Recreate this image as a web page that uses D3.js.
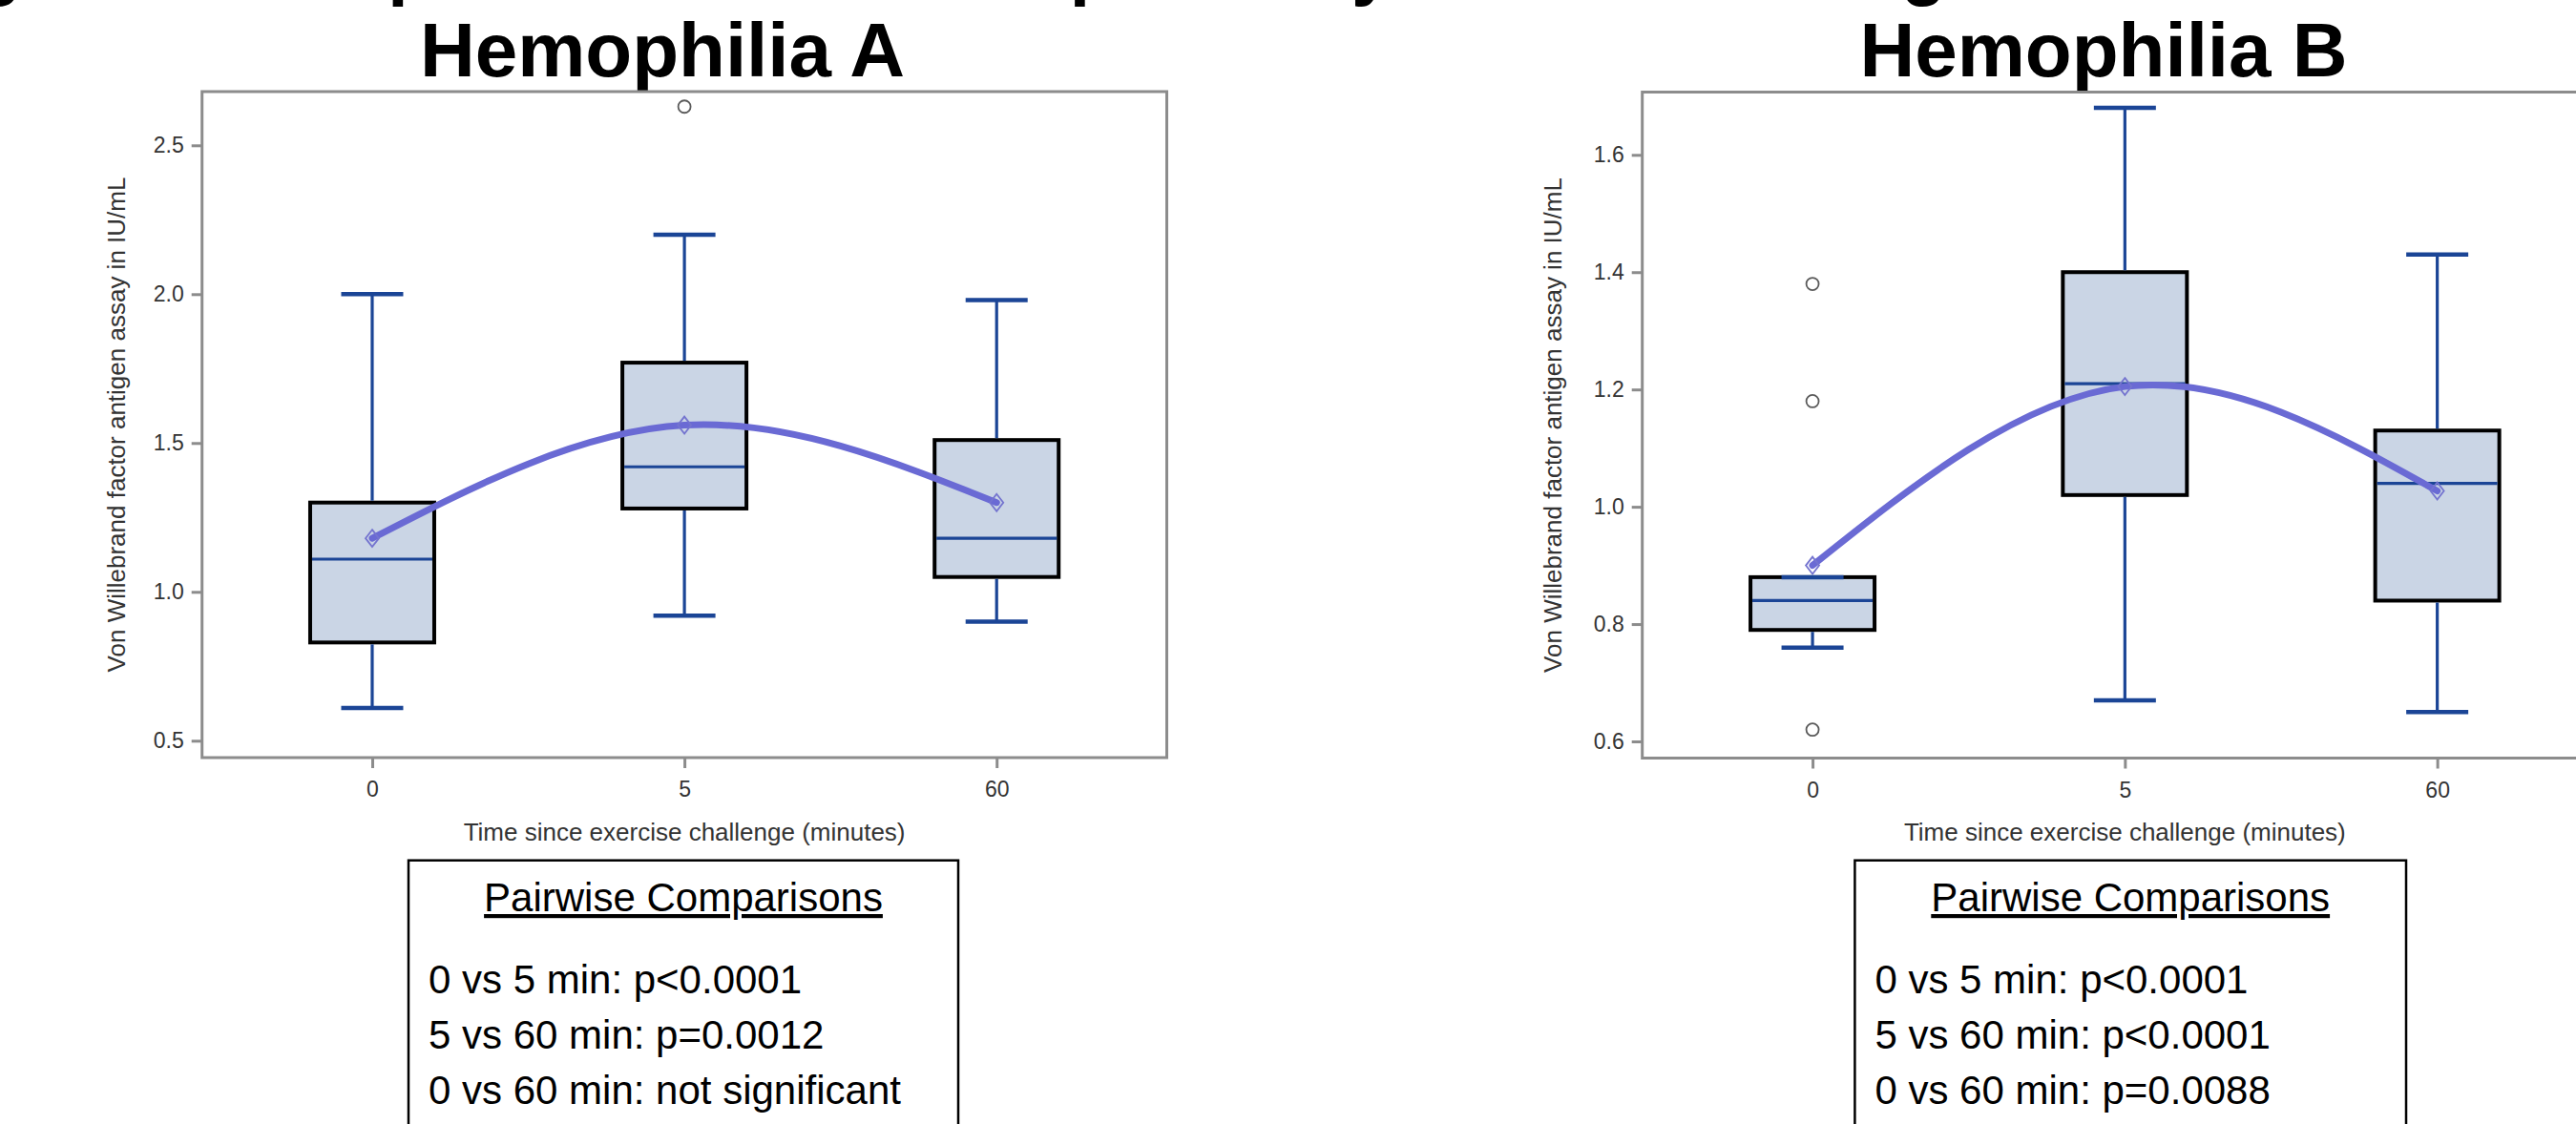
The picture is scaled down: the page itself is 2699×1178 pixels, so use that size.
<!DOCTYPE html>
<html>
<head>
<meta charset="utf-8">
<script src="https://cdn.jsdelivr.net/npm/d3@7"></script>
<style>
  html, body { margin: 0; padding: 0; background: #ffffff; }
  svg { display: block; }
  text { font-family: "Liberation Sans", Arial, sans-serif; }
</style>
</head>
<body>
<script>
// ---------------- DATA ----------------
const categories = ["0", "5", "60"];

// Hemophilia A
const aWhiskerLow  = [0.61, 0.92, 0.90];
const aQ1          = [0.83, 1.28, 1.05];
const aMedian      = [1.11, 1.42, 1.18];
const aQ3          = [1.30, 1.77, 1.51];
const aWhiskerHigh = [2.00, 2.20, 1.98];
const aMean        = [1.18, 1.56, 1.30];
const aOutliers    = [[], [2.63], []];
const aTicks       = [0.5, 1.0, 1.5, 2.0, 2.5];

// Hemophilia B
const bWhiskerLow  = [0.76, 0.67, 0.65];
const bQ1          = [0.79, 1.02, 0.84];
const bMedian      = [0.84, 1.21, 1.04];
const bQ3          = [0.88, 1.40, 1.13];
const bWhiskerHigh = [0.88, 1.68, 1.43];
const bMean        = [0.90, 1.205, 1.027];
const bOutliers    = [[1.38, 1.18, 0.62], [], []];
const bTicks       = [0.6, 0.8, 1.0, 1.2, 1.4, 1.6];

const panelTitles = ["Hemophilia A", "Hemophilia B"];
const figureTitle = "Figure 2: Temporal Trends in Response by Time Following Exercise";
const yAxisTitle = "Von Willebrand factor antigen assay in IU/mL";
const xAxisTitle = "Time since exercise challenge (minutes)";
const comparisonsHeader = "Pairwise Comparisons";
const aComparisons = ["0 vs 5 min: p<0.0001", "5 vs 60 min: p=0.0012", "0 vs 60 min: not significant"];
const bComparisons = ["0 vs 5 min: p<0.0001", "5 vs 60 min: p<0.0001", "0 vs 60 min: p=0.0088"];

// ---------------- LAYOUT ----------------
const W = 2699, H = 1178;
const svg = d3.select("body").append("svg").attr("width", W).attr("height", H);
svg.append("rect").attr("width", W).attr("height", H).attr("fill", "#ffffff");

const COL = {
  frame: "#8c8c8c", tickText: "#333333", boxFill: "#cad5e5", boxLine: "#000000",
  whisker: "#1b4596", curve: "#6a6ad4", diamond: "#7474cf", outlier: "#5a5a5a"
};

// cropped figure title line (only descenders visible, as in the source)
svg.append("text").attr("x", -93).attr("y", -9)
  .attr("font-size", 77).attr("font-weight", "bold").attr("fill", "#000")
  .text(figureTitle);

const panels = [
  { title: panelTitles[0], titleX: 694,
    fx0: 211.7, fx1: 1222.5, fy0: 96, fy1: 794,
    yDom: [0.5, 2.5], yRng: [776.3, 152.3], ticks: aTicks, yLabelX: 122,
    lo: aWhiskerLow, q1: aQ1, med: aMedian, q3: aQ3, hi: aWhiskerHigh, mean: aMean, out: aOutliers,
    bx0: 428, bx1: 1004, comps: aComparisons },
  { title: panelTitles[1], titleX: 2204,
    fx0: 1720.7, fx1: 2732, fy0: 96.5, fy1: 794.5,
    yDom: [0.6, 1.6], yRng: [777, 162.3], ticks: bTicks, yLabelX: 1627,
    lo: bWhiskerLow, q1: bQ1, med: bMedian, q3: bQ3, hi: bWhiskerHigh, mean: bMean, out: bOutliers,
    bx0: 1943.4, bx1: 2521, comps: bComparisons }
];

panels.forEach(p => {
  const g = svg.append("g");
  const x = d3.scalePoint().domain(categories).range([p.fx0, p.fx1]).padding(0.545);
  const y = d3.scaleLinear().domain(p.yDom).range(p.yRng);
  const boxHalf = 65, capHalf = 32.5;

  // panel title
  g.append("text").attr("x", p.titleX).attr("y", 80).attr("text-anchor", "middle")
    .attr("font-size", 80).attr("font-weight", "bold").attr("fill", "#000").text(p.title);

  // frame
  g.append("rect").attr("x", p.fx0).attr("y", p.fy0)
    .attr("width", p.fx1 - p.fx0).attr("height", p.fy1 - p.fy0)
    .attr("fill", "none").attr("stroke", COL.frame).attr("stroke-width", 3);

  // y axis
  const yAxis = d3.axisLeft(y).tickValues(p.ticks).tickFormat(d3.format(".1f"))
    .tickSize(11).tickPadding(8);
  const ya = g.append("g").attr("transform", `translate(${p.fx0},0)`).call(yAxis);
  ya.select(".domain").remove();
  ya.selectAll(".tick line").attr("stroke", COL.frame).attr("stroke-width", 3);
  ya.selectAll(".tick text").attr("font-size", 23).attr("fill", COL.tickText)
    .attr("font-family", '"Liberation Sans", Arial, sans-serif');

  // x axis
  const xAxis = d3.axisBottom(x).tickSize(11).tickPadding(14);
  const xa = g.append("g").attr("transform", `translate(0,${p.fy1})`).call(xAxis);
  xa.select(".domain").remove();
  xa.selectAll(".tick line").attr("stroke", COL.frame).attr("stroke-width", 3);
  xa.selectAll(".tick text").attr("font-size", 23).attr("fill", COL.tickText)
    .attr("font-family", '"Liberation Sans", Arial, sans-serif');

  // axis titles
  const midX = (p.fx0 + p.fx1) / 2, midY = (p.fy0 + p.fy1) / 2;
  g.append("text").attr("x", midX).attr("y", 881).attr("text-anchor", "middle")
    .attr("font-size", 26).attr("fill", COL.tickText).text(xAxisTitle);
  g.append("text").attr("transform", `translate(${p.yLabelX},${midY}) rotate(-90)`)
    .attr("text-anchor", "middle").attr("dy", "0.35em")
    .attr("font-size", 26).attr("fill", COL.tickText).text(yAxisTitle);

  // boxes
  categories.forEach((c, i) => {
    const cx = x(c);
    g.append("rect").attr("x", cx - boxHalf).attr("y", y(p.q3[i]))
      .attr("width", boxHalf * 2).attr("height", y(p.q1[i]) - y(p.q3[i]))
      .attr("fill", COL.boxFill).attr("stroke", COL.boxLine).attr("stroke-width", 4);
    // whiskers
    if (p.hi[i] > p.q3[i]) {
      g.append("line").attr("x1", cx).attr("x2", cx).attr("y1", y(p.q3[i]) - 2).attr("y2", y(p.hi[i]))
        .attr("stroke", COL.whisker).attr("stroke-width", 3.2);
    }
    g.append("line").attr("x1", cx).attr("x2", cx).attr("y1", y(p.q1[i]) + 2).attr("y2", y(p.lo[i]))
      .attr("stroke", COL.whisker).attr("stroke-width", 3.2);
    [p.hi[i], p.lo[i]].forEach(v => {
      g.append("line").attr("x1", cx - capHalf).attr("x2", cx + capHalf).attr("y1", y(v)).attr("y2", y(v))
        .attr("stroke", COL.whisker).attr("stroke-width", 4.5);
    });
    // median
    g.append("line").attr("x1", cx - boxHalf + 2).attr("x2", cx + boxHalf - 2)
      .attr("y1", y(p.med[i])).attr("y2", y(p.med[i]))
      .attr("stroke", COL.whisker).attr("stroke-width", 3.2);
    // outliers
    p.out[i].forEach(v => {
      g.append("circle").attr("cx", cx).attr("cy", y(v)).attr("r", 6.5)
        .attr("fill", "none").attr("stroke", COL.outlier).attr("stroke-width", 1.8);
    });
  });

  // mean curve
  const meanPts = categories.map((c, i) => [x(c), y(p.mean[i])]);
  g.append("path").datum(meanPts)
    .attr("d", d3.line().curve(d3.curveNatural))
    .attr("fill", "none").attr("stroke", COL.curve).attr("stroke-width", 7)
    .attr("stroke-linecap", "round");
  // mean diamonds
  meanPts.forEach(([px, py]) => {
    g.append("path")
      .attr("d", `M${px},${py - 9}L${px + 7},${py}L${px},${py + 9}L${px - 7},${py}Z`)
      .attr("fill", "none").attr("stroke", COL.diamond).attr("stroke-width", 1.8);
  });

  // pairwise comparisons box
  g.append("rect").attr("x", p.bx0).attr("y", 901.7).attr("width", p.bx1 - p.bx0).attr("height", 400)
    .attr("fill", "none").attr("stroke", "#000").attr("stroke-width", 2.5);
  g.append("text").attr("x", (p.bx0 + p.bx1) / 2).attr("y", 955).attr("text-anchor", "middle")
    .attr("font-size", 42).attr("fill", "#000").attr("text-decoration", "underline")
    .text(comparisonsHeader);
  p.comps.forEach((t, k) => {
    g.append("text").attr("x", p.bx0 + 21).attr("y", 1041 + k * 58)
      .attr("font-size", 42).attr("fill", "#000").text(t);
  });
});
</script>
</body>
</html>
